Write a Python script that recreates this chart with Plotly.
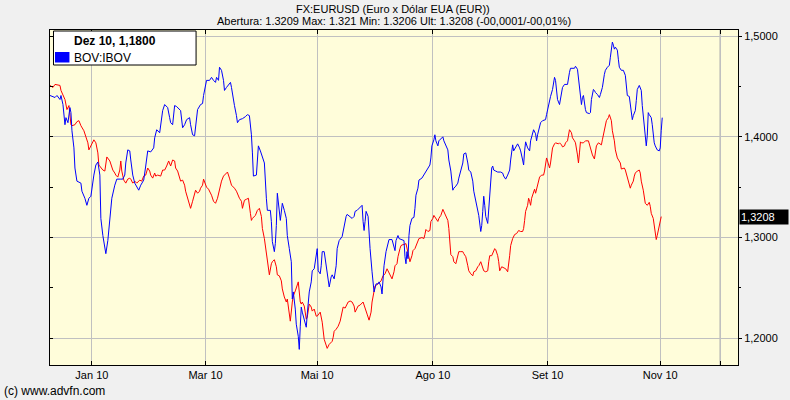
import plotly.graph_objects as go

# ---------------- data ----------------
# session index along the x axis, EUR/USD close
eur_sess = [
    0, 3, 5, 8, 10, 11, 13, 15, 17, 19, 21, 22, 25, 27, 29, 31, 34, 36, 38, 39,
    41, 42, 44, 46, 48, 49, 51, 53, 55, 56, 57, 60, 61, 63, 65, 66, 68, 70, 71, 72,
    74, 76, 78, 80, 81, 83, 85, 87, 90, 92, 94, 96, 98, 100, 101, 103, 105, 106, 108, 111,
    113, 115, 117, 119, 121, 123, 125, 126, 128, 130, 131, 133, 135, 136, 138, 140, 141, 143, 145, 146,
    148, 150, 151, 153, 154, 157, 159, 162, 164, 166, 168, 170, 172, 174, 177, 178, 180, 182, 185, 187,
    190, 192, 193, 195, 197, 199, 201, 202, 203, 206, 208, 210, 212, 213, 215, 217, 218, 220, 222, 223,
    225, 227, 228, 230, 232, 233, 235, 237, 238, 240, 241, 243, 244, 246, 248, 249, 251, 252, 253, 255,
    257, 258, 260, 262, 263, 265, 267, 268, 271, 273, 275, 277, 278, 280, 283, 284, 285, 287, 289, 291,
    293, 294, 296, 297, 299, 301, 303, 305, 306, 309, 311, 314, 316, 318, 320, 322, 323, 325, 326, 329,
    330, 332, 334, 336, 338, 340, 341, 343, 345, 346, 348, 349, 351, 352, 354, 355, 357, 359, 360, 361,
    363, 364, 366, 367, 369, 370, 373, 375, 376, 377, 379, 381, 382, 384, 385, 387, 389, 390, 392, 394,
    395, 397, 399, 400, 401, 402, 404, 405, 407, 409, 410, 412, 414, 415, 417, 419, 420, 422, 424, 425,
    427, 429, 430, 432, 434, 435, 437, 439, 440, 441, 443, 445, 446, 447, 449, 450, 451, 453, 455, 457,
    459, 460, 461, 462, 464, 466, 468, 470, 472, 474, 475, 476, 477, 479, 480, 481, 482, 483, 485, 486,
    487, 489, 490, 491, 493, 495, 496, 497, 498, 499, 501, 502, 503, 504, 506, 507, 510, 511, 513, 514,
    516, 517, 519, 520, 521, 523, 524, 526, 527, 529, 530, 531, 532, 533, 535, 536, 537, 540, 541, 543,
    544, 546, 547, 548, 550, 551, 553, 554, 555, 557, 558, 560, 561, 563, 564, 566, 567, 569, 571, 572,
    573, 576, 577, 579, 581, 582, 583, 585, 586, 587, 589, 591, 592, 593, 595, 596, 597, 599, 601, 602,
    603, 605, 606, 607, 608, 609, 611, 612, 613,
]
eur_val = [
    1.451, 1.449, 1.452, 1.451, 1.451, 1.446, 1.441, 1.437, 1.427, 1.431, 1.412, 1.411, 1.412, 1.415, 1.416, 1.411, 1.406, 1.399, 1.394, 1.387,
    1.391, 1.394, 1.397, 1.394, 1.384, 1.372, 1.369, 1.367, 1.366, 1.372, 1.380, 1.376, 1.372, 1.367, 1.364, 1.362, 1.360, 1.367, 1.376, 1.366,
    1.357, 1.354, 1.358, 1.359, 1.358, 1.354, 1.356, 1.354, 1.357, 1.356, 1.361, 1.362, 1.369, 1.366, 1.362, 1.359, 1.364, 1.361, 1.362, 1.361,
    1.367, 1.367, 1.371, 1.376, 1.371, 1.377, 1.376, 1.369, 1.366, 1.359, 1.356, 1.357, 1.352, 1.346, 1.339, 1.331, 1.329, 1.336, 1.342, 1.347,
    1.344, 1.346, 1.349, 1.352, 1.358, 1.350, 1.348, 1.342, 1.336, 1.334, 1.339, 1.349, 1.356, 1.361, 1.364, 1.365, 1.359, 1.352, 1.349, 1.346,
    1.339, 1.336, 1.329, 1.337, 1.338, 1.339, 1.324, 1.317, 1.319, 1.322, 1.327, 1.329, 1.321, 1.309, 1.299, 1.286, 1.276, 1.263, 1.274, 1.276,
    1.278, 1.271, 1.263, 1.262, 1.257, 1.249, 1.241, 1.236, 1.239, 1.226, 1.217, 1.236, 1.242, 1.247, 1.254, 1.256, 1.236, 1.234, 1.236, 1.232,
    1.219, 1.221, 1.234, 1.231, 1.227, 1.229, 1.222, 1.222, 1.226, 1.216, 1.199, 1.192, 1.190, 1.194, 1.197, 1.201, 1.207, 1.209, 1.212, 1.217,
    1.227, 1.231, 1.230, 1.232, 1.236, 1.237, 1.236, 1.232, 1.226, 1.232, 1.233, 1.236, 1.229, 1.224, 1.218, 1.226, 1.236, 1.247, 1.252, 1.254,
    1.255, 1.257, 1.262, 1.264, 1.269, 1.265, 1.262, 1.259, 1.266, 1.272, 1.274, 1.281, 1.289, 1.292, 1.293, 1.293, 1.294, 1.286, 1.281, 1.276,
    1.282, 1.287, 1.289, 1.292, 1.297, 1.299, 1.300, 1.299, 1.303, 1.308, 1.306, 1.307, 1.316, 1.319, 1.322, 1.319, 1.316, 1.319, 1.322, 1.328,
    1.326, 1.322, 1.317, 1.309, 1.292, 1.283, 1.281, 1.276, 1.274, 1.281, 1.286, 1.286, 1.286, 1.284, 1.281, 1.272, 1.267, 1.264, 1.262, 1.266,
    1.267, 1.271, 1.272, 1.276, 1.271, 1.267, 1.266, 1.267, 1.276, 1.282, 1.282, 1.286, 1.289, 1.288, 1.282, 1.276, 1.267, 1.271, 1.270, 1.269,
    1.266, 1.272, 1.282, 1.292, 1.299, 1.303, 1.304, 1.307, 1.306, 1.306, 1.309, 1.317, 1.326, 1.332, 1.339, 1.336, 1.332, 1.339, 1.347, 1.348,
    1.344, 1.351, 1.356, 1.360, 1.362, 1.362, 1.366, 1.374, 1.379, 1.376, 1.369, 1.374, 1.384, 1.389, 1.393, 1.394, 1.393, 1.394, 1.392, 1.390,
    1.391, 1.394, 1.396, 1.401, 1.407, 1.404, 1.399, 1.396, 1.394, 1.382, 1.374, 1.384, 1.395, 1.394, 1.394, 1.395, 1.396, 1.396, 1.392, 1.386,
    1.382, 1.378, 1.384, 1.391, 1.394, 1.393, 1.392, 1.397, 1.402, 1.409, 1.416, 1.419, 1.422, 1.416, 1.406, 1.396, 1.387, 1.379, 1.376, 1.374,
    1.368, 1.369, 1.367, 1.359, 1.354, 1.349, 1.352, 1.356, 1.361, 1.364, 1.366, 1.367, 1.364, 1.356, 1.347, 1.337, 1.334, 1.332, 1.335, 1.331,
    1.324, 1.319, 1.312, 1.304, 1.298, 1.302, 1.311, 1.316, 1.3208,
]

# BOV:IBOV, rebased onto the EUR/USD scale
ibov_sess = [
    0, 5, 7, 10, 11, 13, 15, 16, 18, 20, 21, 22, 24, 25, 27, 31, 32, 35, 37, 39,
    41, 42, 44, 46, 48, 50, 51, 53, 55, 56, 58, 60, 62, 65, 67, 71, 73, 75, 76, 78,
    80, 81, 83, 85, 87, 89, 91, 94, 96, 98, 101, 104, 105, 107, 110, 111, 113, 115, 118, 120,
    121, 123, 125, 127, 130, 131, 133, 135, 137, 140, 141, 143, 145, 146, 148, 151, 153, 154, 156, 157,
    160, 162, 164, 166, 167, 169, 170, 172, 174, 175, 177, 179, 181, 182, 183, 185, 187, 188, 190, 193,
    196, 198, 200, 202, 203, 204, 207, 208, 209, 211, 213, 215, 217, 218, 221, 222, 223, 225, 226, 227,
    228, 229, 231, 233, 234, 235, 237, 238, 240, 242, 243, 244, 246, 247, 249, 250, 251, 252, 253, 255,
    257, 258, 260, 262, 263, 265, 267, 268, 269, 271, 272, 273, 275, 277, 278, 280, 282, 283, 285, 287,
    288, 290, 293, 294, 295, 297, 298, 300, 303, 305, 306, 308, 309, 311, 313, 314, 315, 316, 317, 319,
    320, 321, 323, 324, 325, 327, 329, 330, 332, 333, 334, 335, 337, 339, 340, 343, 345, 346, 347, 349,
    350, 353, 355, 356, 357, 358, 359, 360, 361, 363, 365, 366, 367, 369, 370, 373, 375, 377, 379, 381,
    382, 383, 385, 386, 387, 389, 390, 392, 394, 395, 397, 399, 400, 402, 404, 405, 407, 409, 410, 412,
    414, 415, 417, 419, 420, 422, 424, 425, 427, 429, 430, 432, 433, 434, 435, 436, 437, 439, 440, 441,
    443, 444, 445, 447, 449, 452, 454, 455, 457, 459, 461, 462, 464, 465, 467, 469, 471, 472, 474, 475,
    476, 477, 479, 481, 482, 484, 485, 487, 488, 489, 491, 492, 494, 497, 498, 499, 501, 502, 504, 506,
    507, 508, 509, 511, 512, 513, 514, 516, 519, 521, 522, 526, 527, 529, 531, 532, 533, 534, 535, 537,
    538, 541, 542, 543, 545, 546, 547, 549, 551, 552, 554, 556, 557, 559, 561, 562, 563, 564, 565, 566,
    567, 569, 570, 571, 573, 575, 577, 578, 579, 581, 583, 584, 585, 587, 588, 589, 591, 593, 594, 595,
    597, 598, 599, 600, 601, 603, 604, 605, 606, 607, 609, 611, 612, 613, 614,
]
ibov_val = [
    1.441, 1.439, 1.441, 1.437, 1.441, 1.432, 1.412, 1.419, 1.414, 1.429, 1.424, 1.406, 1.389, 1.369, 1.356, 1.354, 1.346, 1.339, 1.332, 1.339,
    1.341, 1.349, 1.362, 1.372, 1.375, 1.362, 1.319, 1.302, 1.289, 1.284, 1.297, 1.321, 1.339, 1.352, 1.358, 1.358, 1.358, 1.362, 1.374, 1.387,
    1.386, 1.377, 1.362, 1.354, 1.351, 1.347, 1.352, 1.357, 1.371, 1.386, 1.385, 1.389, 1.399, 1.407, 1.404, 1.412, 1.426, 1.432, 1.429, 1.419,
    1.414, 1.412, 1.431, 1.430, 1.427, 1.426, 1.409, 1.412, 1.417, 1.419, 1.412, 1.402, 1.401, 1.409, 1.427, 1.432, 1.433, 1.441, 1.452, 1.456,
    1.456, 1.459, 1.456, 1.454, 1.459, 1.456, 1.469, 1.466, 1.456, 1.446, 1.449, 1.451, 1.454, 1.449, 1.441, 1.431, 1.421, 1.414, 1.417, 1.418,
    1.420, 1.422, 1.421, 1.402, 1.384, 1.361, 1.362, 1.376, 1.391, 1.386, 1.379, 1.374, 1.339, 1.327, 1.327, 1.316, 1.296, 1.286, 1.294, 1.312,
    1.344, 1.334, 1.317, 1.334, 1.331, 1.327, 1.319, 1.302, 1.289, 1.276, 1.239, 1.246, 1.229, 1.214, 1.202, 1.189, 1.212, 1.231, 1.226, 1.219,
    1.211, 1.224, 1.246, 1.256, 1.267, 1.269, 1.282, 1.289, 1.267, 1.264, 1.272, 1.286, 1.286, 1.272, 1.262, 1.251, 1.261, 1.263, 1.259, 1.272,
    1.289, 1.297, 1.301, 1.306, 1.312, 1.321, 1.323, 1.321, 1.319, 1.321, 1.326, 1.327, 1.328, 1.331, 1.332, 1.316, 1.307, 1.316, 1.326, 1.321,
    1.302, 1.289, 1.266, 1.256, 1.246, 1.254, 1.254, 1.256, 1.251, 1.244, 1.259, 1.272, 1.286, 1.294, 1.298, 1.298, 1.292, 1.287, 1.297, 1.302,
    1.299, 1.298, 1.297, 1.281, 1.274, 1.286, 1.279, 1.302, 1.312, 1.319, 1.320, 1.329, 1.342, 1.349, 1.357, 1.359, 1.362, 1.366, 1.369, 1.372,
    1.379, 1.391, 1.397, 1.402, 1.396, 1.391, 1.396, 1.398, 1.400, 1.396, 1.392, 1.387, 1.377, 1.366, 1.347, 1.349, 1.351, 1.354, 1.359, 1.367,
    1.374, 1.383, 1.384, 1.374, 1.367, 1.365, 1.356, 1.346, 1.336, 1.329, 1.322, 1.306, 1.312, 1.326, 1.341, 1.332, 1.321, 1.314, 1.329, 1.342,
    1.369, 1.371, 1.367, 1.366, 1.365, 1.365, 1.364, 1.361, 1.358, 1.362, 1.367, 1.377, 1.392, 1.386, 1.389, 1.393, 1.389, 1.386, 1.377, 1.372,
    1.386, 1.395, 1.389, 1.386, 1.396, 1.404, 1.407, 1.403, 1.396, 1.402, 1.410, 1.414, 1.416, 1.417, 1.422, 1.427, 1.436, 1.440, 1.447, 1.459,
    1.456, 1.444, 1.437, 1.432, 1.437, 1.444, 1.449, 1.452, 1.452, 1.464, 1.468, 1.468, 1.470, 1.467, 1.449, 1.436, 1.432, 1.439, 1.441, 1.427,
    1.424, 1.423, 1.424, 1.437, 1.447, 1.446, 1.444, 1.442, 1.439, 1.442, 1.449, 1.462, 1.466, 1.469, 1.471, 1.479, 1.487, 1.494, 1.491, 1.487,
    1.489, 1.486, 1.477, 1.469, 1.466, 1.466, 1.461, 1.452, 1.441, 1.440, 1.427, 1.417, 1.421, 1.426, 1.436, 1.447, 1.451, 1.446, 1.431, 1.421,
    1.402, 1.391, 1.401, 1.424, 1.422, 1.419, 1.412, 1.402, 1.394, 1.391, 1.387, 1.386, 1.389, 1.406, 1.419,
]

x_tick_sess = [42, 156, 268, 384, 499, 612, 672]
x_tick_text = ["Jan 10", "Mar 10", "Mai 10", "Ago 10", "Set 10", "Nov 10", ""]
y_tick_vals = [1.2, 1.3, 1.4, 1.5]
last_eur = 1.3208
title_main = "FX:EURUSD (Euro x Dólar EUA (EUR))"
title_sub = "Abertura: 1.3209 Max: 1.321 Min: 1.3206 Ult: 1.3208 (-00,0001/-00,01%)"
legend_head = "Dez 10, 1,1800"
legend_name = "BOV:IBOV"
credit = "(c) www.advfn.com"

assert len(eur_sess) == len(eur_val)
assert len(ibov_sess) == len(ibov_val)

# ---------------- layout geometry ----------------
W, H = 790, 400
ML, MR, MT, MB = 50, 50, 30, 35
PW, PH = W - ML - MR, H - MT - MB
X_RANGE = [0, 690]
Y_RANGE = [1.1735, 1.506]
FONT = "Liberation Sans, Arial, sans-serif"


def px(x):
    return (x - ML) / PW


def py(y):
    return (H - MB - y) / PH


fig = go.Figure()
fig.add_trace(go.Scatter(x=eur_sess, y=eur_val, mode="lines",
                         line=dict(color="#FF0000", width=1),
                         showlegend=False, hoverinfo="skip"))
fig.add_trace(go.Scatter(x=ibov_sess, y=ibov_val, mode="lines",
                         line=dict(color="#0000FF", width=1),
                         showlegend=False, hoverinfo="skip"))
# helper trace so the left tick axis gets drawn
fig.add_trace(go.Scatter(x=[], y=[], yaxis="y2", showlegend=False, hoverinfo="skip"))

shapes = [
    # darker extra vertical gridline
    dict(type="line", xref="x", yref="paper", x0=x_tick_sess[-1], x1=x_tick_sess[-1],
         y0=0, y1=1, line=dict(color="#A8A8A8", width=1), layer="below"),
    # legend box
    dict(type="rect", xref="paper", yref="paper", x0=px(53.5), x1=px(196.5),
         y0=py(65), y1=py(31), line=dict(color="black", width=1), fillcolor="white"),
    dict(type="rect", xref="paper", yref="paper", x0=px(55), x1=px(69.5),
         y0=py(62.5), y1=py(52), line=dict(width=0), fillcolor="#0000FF"),
]

annotations = [
    dict(text=title_main, xref="paper", yref="paper", x=px(393.5), y=py(9),
         xanchor="center", yanchor="middle", showarrow=False,
         font=dict(family=FONT, size=11, color="black")),
    dict(text=title_sub, xref="paper", yref="paper", x=px(395), y=py(21),
         xanchor="center", yanchor="middle", showarrow=False,
         font=dict(family=FONT, size=11, color="black")),
    dict(text="<b>" + legend_head + "</b>", xref="paper", yref="paper", x=px(72), y=py(40.5),
         xanchor="left", yanchor="middle", showarrow=False,
         font=dict(family=FONT, size=12, color="black")),
    dict(text=legend_name, xref="paper", yref="paper", x=px(72), y=py(57.5),
         xanchor="left", yanchor="middle", showarrow=False,
         font=dict(family=FONT, size=12, color="black")),
    dict(text=credit, xref="paper", yref="paper", x=px(1.5), y=py(391),
         xanchor="left", yanchor="middle", showarrow=False,
         font=dict(family=FONT, size=12, color="black")),
    dict(text="1,3208", xref="paper", yref="y", x=1, y=last_eur,
         xanchor="left", yanchor="middle", showarrow=False, align="left",
         bgcolor="black", borderpad=1, width=46, xshift=0.5,
         font=dict(family=FONT, size=11, color="white")),
]

fig.update_layout(
    width=W, height=H, autosize=False,
    margin=dict(l=ML, r=MR, t=MT, b=MB, pad=0),
    paper_bgcolor="#F0F0F0",
    plot_bgcolor="#FFFDDA",
    separators=",.",
    font=dict(family=FONT, size=11, color="black"),
    showlegend=False,
    shapes=shapes,
    annotations=annotations,
    xaxis=dict(
        range=X_RANGE, tickmode="array", tickvals=x_tick_sess, ticktext=x_tick_text,
        showgrid=True, gridcolor="#C0C0C0", gridwidth=1, zeroline=False,
        showline=True, linecolor="black", linewidth=1, mirror="ticks",
        ticks="inside", ticklen=4, tickcolor="black", tickwidth=1,
        tickfont=dict(family=FONT, size=11, color="black"),
    ),
    yaxis=dict(
        range=Y_RANGE, side="right", tickmode="array", tickvals=y_tick_vals,
        tickformat=".4f",
        showgrid=True, gridcolor="#C0C0C0", gridwidth=1, zeroline=False,
        showline=True, linecolor="black", linewidth=1, mirror=True,
        ticks="outside", ticklen=3, tickcolor="black", tickwidth=1,
        minor=dict(ticks="outside", ticklen=2, tickcolor="black", dtick=0.05,
                   tick0=1.2, showgrid=False),
        tickfont=dict(family=FONT, size=11, color="black"),
    ),
    yaxis2=dict(
        range=Y_RANGE, overlaying="y", side="left", tickmode="linear",
        tick0=1.2, dtick=0.05, showticklabels=False, showgrid=False,
        zeroline=False, showline=False, ticks="inside", ticklen=3,
        tickcolor="black", tickwidth=1,
    ),
)

fig.write_html(
    "out.html",
    config={"displayModeBar": False},
    post_script="document.body.style.margin='0px';document.body.style.padding='0px';"
                "document.body.style.overflow='hidden';",
)
